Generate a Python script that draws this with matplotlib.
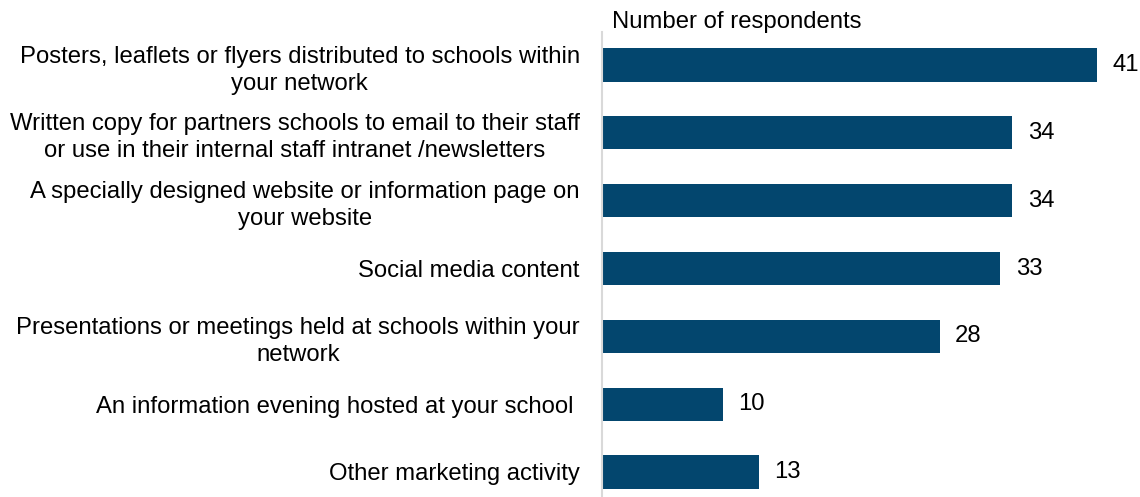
import matplotlib
matplotlib.use("Agg")
import matplotlib.pyplot as plt

categories = [
    "Posters, leaflets or flyers distributed to schools within\nyour network",
    "Written copy for partners schools to email to their staff\nor use in their internal staff intranet /newsletters",
    "A specially designed website or information page on\nyour website",
    "Social media content",
    "Presentations or meetings held at schools within your\nnetwork",
    "An information evening hosted at your school ",
    "Other marketing activity",
]
values = [41, 34, 34, 33, 28, 10, 13]
axis_title = "Number of respondents"

plt.rcParams['font.family'] = ['Liberation Sans', 'DejaVu Sans']
FS = 17.2

fig = plt.figure(figsize=(11.4, 4.97), dpi=100)
ax = fig.add_axes([602/1140, 0.0, 1 - 602/1140, 1 - 32/497])

pos = list(range(len(categories)))
ax.barh(pos, values, height=0.49, color='#03466E')
ax.set_ylim(6 + 25/67.8, -33/67.8)
ax.set_xlim(0, 538/12.07)

for p, v in zip(pos, values):
    ax.annotate(str(v), xy=(v, p), xytext=(11, 0), textcoords='offset points',
                va='center', ha='left', fontsize=FS, color='black')

ax.set_yticks(pos)
ax.set_yticklabels(categories, fontsize=FS, linespacing=1.3, multialignment='center')
ax.tick_params(axis='y', length=0, pad=16)
ax.set_xticks([])
for s in ['top', 'right', 'bottom']:
    ax.spines[s].set_visible(False)
ax.spines['left'].set_color('#D9D9D9')
ax.spines['left'].set_linewidth(1.5)

fig.text(612/1140, 1 - 22/497, axis_title, fontsize=FS, ha='left', va='center')

fig.savefig('out.png', dpi=100)
